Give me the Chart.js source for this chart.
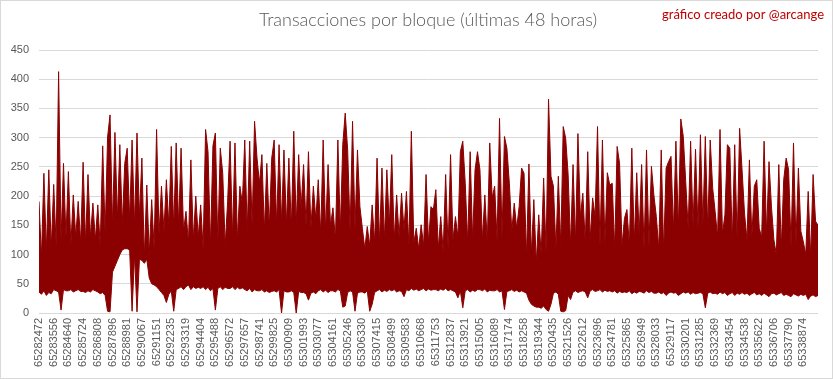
<!DOCTYPE html>
<html>
<head>
<meta charset="utf-8">
<script src="https://cdn.jsdelivr.net/npm/chart.js@4/dist/chart.umd.min.js"></script>
<style>
html,body{margin:0;padding:0;background:#fff;}
#wrap{width:833px;height:379px;position:relative;}
</style>
</head>
<body>
<div id="wrap"><canvas id="c" width="833" height="379"></canvas></div>
<script>
const titleText = "Transacciones por bloque (últimas 48 horas)";
const creditText = "gráfico creado por @arcange";

// Block-number tick labels (every 6 samples below)
const tickLabels = [
 "65282472","65283556","65284640","65285724","65286808","65287896","65288981","65290067",
 "65291151","65292235","65293319","65294404","65295488","65296572","65297657","65298741",
 "65299825","65300909","65301993","65303077","65304161","65305246","65306330","65307415",
 "65308499","65309583","65310668","65311753","65312837","65313921","65315005","65316089",
 "65317174","65318258","65319344","65320435","65321526","65322612","65323696","65324781",
 "65325865","65326949","65328033","65329117","65330201","65331285","65332369","65333454",
 "65334538","65335622","65336706","65337790","65338874"
];
const samplesPerLabel = 6;

// Upper envelope of transactions per block
const highs = [
 191,95,239,105,245,110,   220,115,413,125,256,130,   242,115,202,130,191,120,   258,120,237,130,188,125,
 185,115,286,135,301,339,  150,309,160,288,150,256,   282,160,296,150,308,165,   265,95,219,100,194,110,
 314,135,217,140,228,150,  285,145,291,150,282,140,   174,120,262,125,200,130,   185,110,314,276,115,286,
 308,120,282,239,115,191,  294,130,291,125,217,188,   296,140,294,150,328,265,   222,271,140,256,145,265,
 296,150,288,155,279,150,  265,145,311,150,271,180,   254,150,276,145,217,160,   228,135,296,140,254,150,
 180,125,296,140,288,342,  279,140,328,145,279,182,   145,110,148,115,185,120,   265,120,248,125,245,150,
 271,125,202,130,205,142,  208,115,311,120,145,110,   151,115,237,120,182,177,   211,110,165,105,237,110,
 271,125,165,130,276,294,  222,120,276,125,245,276,   245,125,202,120,291,197,   217,125,333,130,302,282,
 222,140,188,145,182,248,  239,95,255,100,194,85,     168,100,231,105,366,234,   217,110,234,115,319,299,
 237,115,254,120,307,165,  205,120,276,125,197,165,   319,115,296,120,240,219,   222,110,285,256,115,162,
 177,115,282,120,240,134,  254,110,279,115,251,202,   165,110,279,105,248,259,   268,140,294,145,332,302,
 225,145,294,150,280,145,  305,150,302,145,296,214,   174,130,314,135,168,288,   282,120,288,125,316,245,
 171,125,262,130,217,228,  145,130,294,135,259,182,   125,100,254,110,228,265,   245,115,291,120,248,140,
 122,100,208,95,237,157,
 150
];

// Lower envelope of transactions per block
const lows = [
 36,32,38,30,35,33,   40,38,36,5,40,38,    38,40,36,38,40,37,   37,35,38,36,40,38,
 36,33,35,30,3,2,     70,80,90,100,108,110, 110,108,3,100,2,92,  90,85,92,60,50,48,
 45,40,35,30,18,32,   38,3,40,42,45,40,    45,48,40,45,42,44,   42,45,40,44,38,42,
 5,42,45,40,44,42,    42,45,40,44,41,43,   40,38,42,36,40,38,   38,40,36,38,35,37,
 38,36,40,0,38,36,    36,38,35,0,37,35,    35,33,22,34,36,33,   38,40,36,39,35,38,
 38,36,40,38,10,12,   35,38,36,3,34,36,    36,34,38,3,15,35,    38,40,36,39,37,40,
 38,40,36,38,37,28,   40,38,42,39,41,38,   40,42,38,41,39,40,   40,38,41,39,42,38,
 40,38,36,26,38,9,    38,40,36,39,37,40,   40,38,41,36,39,38,   38,40,36,38,6,37,
 38,40,37,39,36,38,   36,34,22,15,12,10,   10,8,12,6,3,15,      34,36,32,3,2,4,
 30,23,36,38,35,37,   38,36,26,38,40,37,   38,40,36,39,37,38,   36,38,34,37,35,36,
 35,38,33,36,34,37,   36,34,38,35,37,34,   34,36,33,35,30,34,   36,34,35,30,33,36,
 34,36,32,35,33,34,   35,33,9,34,36,33,    34,32,36,33,35,30,   33,35,30,34,32,35,
 32,34,30,33,35,31,   33,30,34,31,28,33,   34,31,33,35,30,32,   30,28,33,31,29,32,
 30,32,23,29,31,28,
 30
];

const yTicks = [0,50,100,150,200,250,300,350,400,450];

const RED = '#8B0000';
const GRID = '#D9D9D9';
const TXT = '#595959';

const toPts = arr => arr.map((v,i)=>({x:i,y:v}));

const textPlugin = {
  id:'texts',
  afterDraw(chart){
    const ctx = chart.ctx;
    ctx.save();
    ctx.fillStyle = TXT;
    ctx.font = '300 18px Lato, "Open Sans", sans-serif';
    ctx.textAlign = 'center';
    ctx.textBaseline = 'middle';
    ctx.fillText(titleText, 428, 20);
    ctx.fillStyle = '#C00000';
    ctx.font = '13px Lato, "Open Sans", sans-serif';
    ctx.textAlign = 'right';
    ctx.fillText(creditText, 824, 15);
    ctx.strokeStyle = GRID;
    ctx.lineWidth = 1;
    ctx.strokeRect(0.5,0.5,chart.width-1,chart.height-1);
    ctx.restore();
  }
};

new Chart(document.getElementById('c'), {
  type:'line',
  data:{
    datasets:[
      {data:toPts(lows), borderColor:RED, borderWidth:1, pointRadius:0, fill:false, tension:0},
      {data:toPts(highs), borderColor:RED, borderWidth:1, pointRadius:0, fill:'-1', backgroundColor:RED, tension:0}
    ]
  },
  options:{
    responsive:false,
    animation:false,
    events:[],
    layout:{padding:{top:50,right:15,left:0,bottom:0}},
    plugins:{legend:{display:false},tooltip:{enabled:false},title:{display:false}},
    scales:{
      x:{
        type:'linear', min:0, max:highs.length-1,
        grid:{display:false, drawTicks:false},
        border:{display:false},
        afterBuildTicks(scale){
          scale.ticks = tickLabels.map((_,k)=>({value:k*samplesPerLabel}));
        },
        afterFit(scale){ scale.height = 66; },
        ticks:{
          autoSkip:false, maxRotation:90, minRotation:90, padding:5,
          color:TXT, font:{family:'"Liberation Sans", Arial, sans-serif', size:11},
          callback:(v)=> tickLabels[Math.round(v/samplesPerLabel)] ?? ''
        }
      },
      y:{
        min:0, max:450,
        grid:{color:GRID, drawTicks:false},
        border:{display:false},
        afterBuildTicks(scale){ scale.ticks = yTicks.map(v=>({value:v})); },
        afterFit(scale){ scale.width = 39; },
        ticks:{color:TXT, padding:10, font:{family:'"Liberation Sans", Arial, sans-serif', size:11}}
      }
    }
  },
  plugins:[textPlugin]
});
</script>
</body>
</html>
